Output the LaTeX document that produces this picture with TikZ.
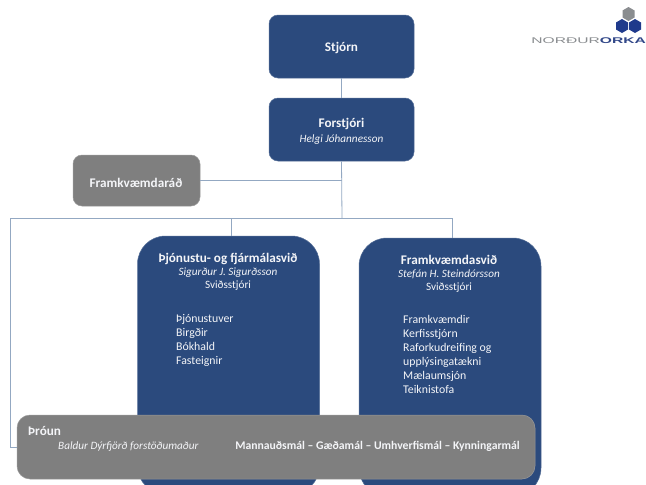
\documentclass[tikz,border=0pt]{standalone}
\usepackage{fontspec}
\setmainfont{Carlito}
\newfontfamily\logofont{Liberation Sans}
\usetikzlibrary{calc}
\definecolor{navy}{HTML}{2B4A7D}
\definecolor{midgray}{HTML}{7F7F7F}
\definecolor{linkblue}{HTML}{93A8C2}
\definecolor{softwhite}{HTML}{F4F5F8}
\definecolor{hexblue}{HTML}{1F3A8C}
\definecolor{hexgray}{HTML}{8A8D90}
\tikzset{
  x=1pt,y=-1pt,
  box/.style={draw=#1!80!white,fill=#1,line width=.5pt,inner sep=0pt,text=softwhite},
  smallbox/.style={box=navy,rounded corners=9pt,minimum width=145pt,minimum height=63pt},
  bigbox/.style={box=navy,rounded corners=28pt,minimum width=182pt,minimum height=258pt},
  link/.style={draw=linkblue,line width=.8pt},
  title/.style={text=softwhite,font=\fontsize{13.2}{15}\selectfont\bfseries,align=center,inner sep=0pt},
  info/.style={text=softwhite,font=\fontsize{11.8}{14}\selectfont,align=left,anchor=north west,inner sep=0pt},
  sub/.style={text=softwhite,font=\fontsize{11.2}{13}\selectfont,align=center,anchor=north,inner sep=0pt},
  note/.style={text=softwhite,font=\fontsize{11.2}{13}\selectfont\itshape,inner sep=0pt},
  hexa/.style={fill=#1,draw=none}
}
\begin{document}
\begin{tikzpicture}
\path[use as bounding box] (0,0) rectangle (646,485);
\clip (0,0) rectangle (646,485);
\fill[white] (0,0) rectangle (646,485);
% boxes
\node[smallbox] (stjorn) at (341.5,46.5) {};
\node[smallbox] (forstjori) at (341.5,129.5) {};
\node[box=midgray,rounded corners=9pt,minimum width=127pt,minimum height=51pt] (rad) at (136.5,180.5) {};
\node[bigbox] (thjon) at (228.5,365) {};
\node[bigbox] (framk) at (450,367) {};
% connectors
\coordinate (busL) at (10,218);
\coordinate (junction) at (342,218);
\coordinate (busT) at ($(thjon.north)+(2.5,0)$);
\coordinate (busF) at ($(framk.north)+(2,0)$);
\draw[link] (stjorn.south) -- (forstjori.north);
\draw[link] (forstjori.south) -- (junction);
\draw[link] (rad.east) -- (rad.east -| junction);
\draw[link] (busL) -- (busL -| busF) -- (busF);
\draw[link] (busL -| busT) -- (busT);
% gray band
\node[box=midgray,rounded corners=13pt,minimum width=518pt,minimum height=64pt] (throun) at (276,447) {};
\draw[link] (busL) |- (throun.west);
% texts
\node[title] (t1) at (341.5,47.5) {Stjórn};
\node[title] (t2) at (341.5,123.5) {Forstjóri};
\node[note] (t2b) at (341.5,139.5) {Helgi Jóhannesson};
\node[title] (t3) at (136,182.5) {Framkvæmdaráð};
\node[title] (t4) at (228,258.5) {Þjónustu- og fjármálasvið};
\node[sub] (t4b) at (228,268) {\itshape Sigurður J. Sigurðsson\\Sviðsstjóri};
\node[info] (t4c) at (176,314.5) {Þjónustuver\\Birgðir\\Bókhald\\Fasteignir};
\node[title] (t5) at (449,260) {Framkvæmdasvið};
\node[sub] (t5b) at (449,270) {\itshape Stefán H. Steindórsson\\Sviðsstjóri};
\node[info] (t5c) at (403,315) {Framkvæmdir\\Kerfisstjórn\\Raforkudreifing og\\upplýsingatækni\\Mælaumsjón\\Teiknistofa};
\node[title,anchor=west] (t6) at (28,431) {Þróun};
\node[note,anchor=west] (t6b) at (58,447) {Baldur Dýrfjörð forstöðumaður};
\node[text=softwhite,font=\fontsize{11.7}{13}\selectfont\bfseries,inner sep=0pt,anchor=east] (t6c) at (520,446.5) {Mannauðsmál – Gæðamál – Umhverfismál – Kynningarmál};
% logo
\foreach \n/\cx/\cy/\col in {a/628.5/14/hexgray,b/622/26/hexblue,c/635/26/hexblue}{
  \fill[hexa=\col] ($(\cx,\cy)+(0,-7)$) -- ++(6,3.5) -- ++(0,7) -- ++(-6,3.5) -- ++(-6,-3.5) -- ++(0,-7) -- cycle;
}
\node[anchor=west,inner sep=0pt,font=\logofont\fontsize{8.3}{9}\selectfont,text=hexgray,xscale=1.88] (logoa) at (531,41) {NORÐUR\textcolor{hexblue!80!gray}{\bfseries ORKA}};
\end{tikzpicture}
\end{document}
